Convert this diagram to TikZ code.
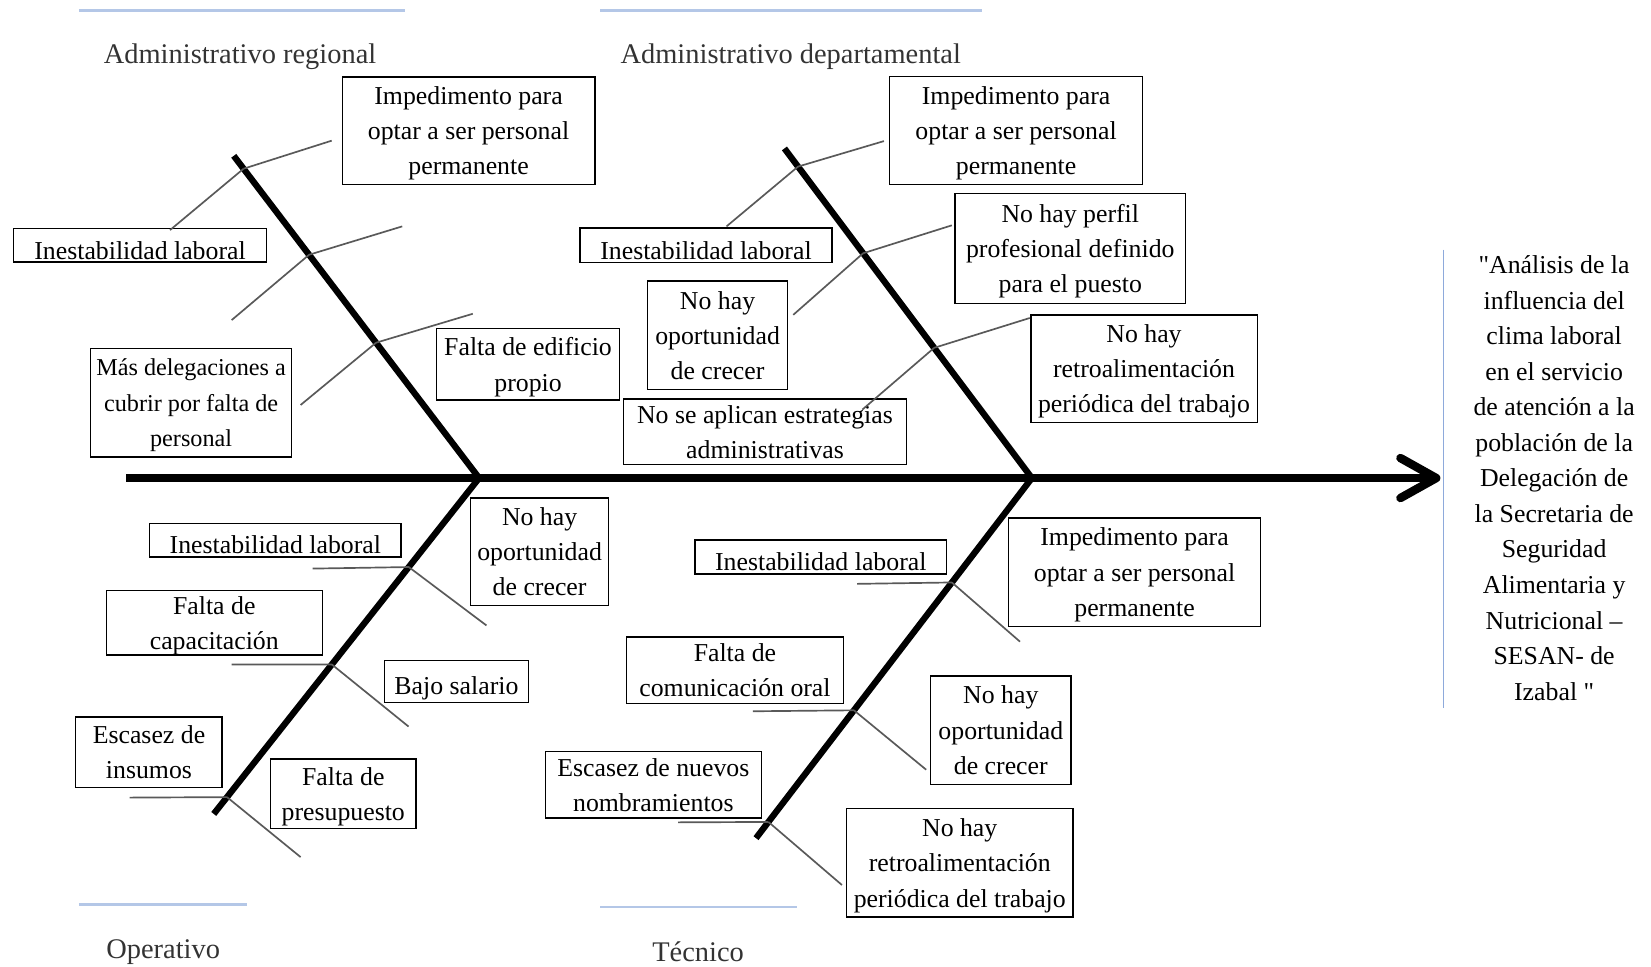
\documentclass[tikz,border=0pt]{standalone}
\usepackage{fontspec}
\setmainfont{Liberation Serif}[Ligatures=TeXOff]
\usetikzlibrary{calc}
\definecolor{guideblue}{HTML}{B4C7E7}
\definecolor{vblue}{HTML}{8EAADB}
\newcommand\causefont{\fontsize{24.5}{33.5}\selectfont}
\newcommand\smallcausefont{\fontsize{23}{33.5}\selectfont}
\newcommand\headfont{\fontsize{27}{32}\selectfont}
\newcommand\effectfont{\fontsize{24.5}{33.75}\selectfont}
\newcommand\topstrut{\rule{0pt}{26pt}}
\tikzset{
  cause/.style={draw=black, line width=1.3pt, align=center, inner sep=0pt, font=\causefont, text=black, text depth=-12pt, execute at begin node=\topstrut},
  spine/.style={line width=8pt, draw=black},
  bone/.style={line width=6pt, draw=black},
  twig/.style={line width=1.6pt, draw=black!65},
  guide/.style={line width=2pt, draw=guideblue},
  head/.style={font=\headfont, text=black!80, inner sep=0pt},
  headarrow/.style={line width=8pt, draw=black, line cap=round, line join=round},
}
\begin{document}
\begin{tikzpicture}[x=1pt, y=-1pt]
\useasboundingbox (0,0) rectangle (1568,918);

% guide lines
\coordinate (g1a) at (75,10);  \coordinate (g1b) at (385,10);
\coordinate (g2a) at (570,10); \coordinate (g2b) at (933,10);
\coordinate (g3a) at (75,859); \coordinate (g3b) at (235,859);
\coordinate (g4a) at (570,861);\coordinate (g4b) at (757,861);
\draw[guide] (g1a) -- (g1b);
\draw[guide] (g2a) -- (g2b);
\draw[guide] (g3a) -- (g3b);
\draw[guide] (g4a) -- (g4b);
\coordinate (v1) at (1371,237); \coordinate (v2) at (1371,672);
\draw[line width=1.5pt, draw=vblue] (v1) -- (v2);

% headers
\node[head] (h1) at (228,54) {Administrativo regional};
\node[head] (h2) at (751,54) {Administrativo departamental};
\node[head] (h3) at (155,904) {Operativo};
\node[head] (h4) at (663,904) {Técnico};

% spine and bones
\coordinate (S0) at (120,454);
\coordinate (J1) at (455,454);
\coordinate (J2) at (980,454);
\coordinate (S1) at (1364,454);
\coordinate (B1) at (222,148);
\coordinate (B2) at (745,141);
\coordinate (B3) at (203,773);
\coordinate (B4) at (718,796);
\draw[spine] (S0) -- (S1);
\coordinate (A1) at (1330,435);
\coordinate (A2) at (1330,473);
\draw[headarrow] (A1) -- (S1) -- (A2);
\draw[bone] (B1) -- (J1);
\draw[bone] (B2) -- (J2);
\draw[bone] (J1) -- (B3);
\draw[bone] (J2) -- (B4);

% cause boxes: top-left
\node[cause, minimum width=240, minimum height=102] (tl1) at (445,124) {Impedimento para\\optar a ser personal\\permanente};
\node[cause, minimum width=240, minimum height=32] (tl2) at (133,233) {Inestabilidad laboral};
\node[cause, minimum width=191, minimum height=103, font=\smallcausefont] (tl3) at (181.5,382.5) {Más delegaciones a\\cubrir por falta de\\personal};
\node[cause, minimum width=174, minimum height=68] (tl4) at (501.5,346) {Falta de edificio\\propio};

% top-right
\node[cause, minimum width=240, minimum height=103] (tr1) at (965,124) {Impedimento para\\optar a ser personal\\permanente};
\node[cause, minimum width=219, minimum height=104] (tr2) at (1016.5,236) {No hay perfil\\profesional definido\\para el puesto};
\node[cause, minimum width=215, minimum height=102] (tr3) at (1086.5,350) {No hay\\retroalimentación\\periódica del trabajo};
\node[cause, minimum width=239, minimum height=33] (tr4) at (670.5,233) {Inestabilidad laboral};
\node[cause, minimum width=133, minimum height=103] (tr5) at (681.5,318.5) {No hay\\oportunidad\\de crecer};
\node[cause, minimum width=269, minimum height=62] (tr6) at (726.5,410) {No se aplican estrategias\\administrativas};

% bottom-left
\node[cause, minimum width=131, minimum height=102] (bl1) at (512.5,524) {No hay\\oportunidad\\de crecer};
\node[cause, minimum width=239, minimum height=32] (bl2) at (261.5,513) {Inestabilidad laboral};
\node[cause, minimum width=205, minimum height=61] (bl3) at (203.5,591.5) {Falta de\\capacitación};
\node[cause, minimum width=137, minimum height=40] (bl4) at (433.5,647) {Bajo salario};
\node[cause, minimum width=139, minimum height=67] (bl5) at (141.5,714.5) {Escasez de\\insumos};
\node[cause, minimum width=138, minimum height=66] (bl6) at (326,754) {Falta de\\presupuesto};

% bottom-right
\node[cause, minimum width=239, minimum height=103] (br1) at (1077.5,543.5) {Impedimento para\\optar a ser personal\\permanente};
\node[cause, minimum width=239, minimum height=32] (br2) at (779.5,529) {Inestabilidad laboral};
\node[cause, minimum width=206, minimum height=63] (br3) at (698,636.5) {Falta de\\comunicación oral};
\node[cause, minimum width=133, minimum height=103] (br4) at (950.5,693.5) {No hay\\oportunidad\\de crecer};
\node[cause, minimum width=205, minimum height=63] (br5) at (620.5,745.5) {Escasez de nuevos\\nombramientos};
\node[cause, minimum width=215, minimum height=103] (br6) at (911.5,819.5) {No hay\\retroalimentación\\periódica del trabajo};

% twigs: top-left bone
\coordinate (p1a) at ($(B1)!0.04!(J1)$);
\coordinate (p1b) at ($(B1)!0.307!(J1)$);
\coordinate (p1c) at ($(B1)!0.58!(J1)$);
\coordinate (q1a) at (315,133.6);  \coordinate (r1a) at (161.5,218.5);
\coordinate (q1b) at (382,215);    \coordinate (r1b) at (220,304);
\coordinate (q1c) at (449,298);    \coordinate (r1c) at (285.5,384.6);
\draw[twig] (p1a) -- (q1a); \draw[twig] (r1a) -- (p1a);
\draw[twig] (p1b) -- (q1b); \draw[twig] (r1b) -- (p1b);
\draw[twig] (p1c) -- (q1c); \draw[twig] (r1c) -- (p1c);

% twigs: top-right bone
\coordinate (p2a) at ($(B2)!0.055!(J2)$);
\coordinate (p2b) at ($(B2)!0.318!(J2)$);
\coordinate (p2c) at ($(B2)!0.605!(J2)$);
\coordinate (q2a) at (839.5,134);  \coordinate (r2a) at (690,215);
\coordinate (q2b) at (904,214);    \coordinate (r2b) at (753.4,299);
\coordinate (q2c) at (978,302);    \coordinate (r2c) at (819,389);
\draw[twig] (p2a) -- (q2a); \draw[twig] (r2a) -- (p2a);
\draw[twig] (p2b) -- (q2b); \draw[twig] (r2b) -- (p2b);
\draw[twig] (p2c) -- (q2c); \draw[twig] (r2c) -- (p2c);

% twigs: bottom-left bone
\coordinate (p3a) at ($(J1)!0.265!(B3)$);
\coordinate (p3b) at ($(J1)!0.555!(B3)$);
\coordinate (p3c) at ($(J1)!0.95!(B3)$);
\coordinate (q3a) at (297,540);    \coordinate (r3a) at (462,594);
\coordinate (q3b) at (220,631);    \coordinate (r3b) at (388,690);
\coordinate (q3c) at (123,757.5);  \coordinate (r3c) at (285.5,814);
\draw[twig] (q3a) -- (p3a); \draw[twig] (p3a) -- (r3a);
\draw[twig] (q3b) -- (p3b); \draw[twig] (p3b) -- (r3b);
\draw[twig] (q3c) -- (p3c); \draw[twig] (p3c) -- (r3c);

% twigs: bottom-right bone
\coordinate (p4a) at ($(J2)!0.29!(B4)$);
\coordinate (p4b) at ($(J2)!0.645!(B4)$);
\coordinate (p4c) at ($(J2)!0.955!(B4)$);
\coordinate (q4a) at (814,554.5);  \coordinate (r4a) at (968.7,609.4);
\coordinate (q4b) at (715,675.5);  \coordinate (r4b) at (879.6,731);
\coordinate (q4c) at (644,781);    \coordinate (r4c) at (799.6,840.5);
\draw[twig] (q4a) -- (p4a); \draw[twig] (p4a) -- (r4a);
\draw[twig] (q4b) -- (p4b); \draw[twig] (p4b) -- (r4b);
\draw[twig] (q4c) -- (p4c); \draw[twig] (p4c) -- (r4c);

% effect
\node[align=center, font=\effectfont, text=black, inner sep=0pt] (effect) at (1476,454)
  {"Análisis de la\\influencia del\\clima laboral\\en el servicio\\de atención a la\\población de la\\Delegación de\\la Secretaria de\\Seguridad\\Alimentaria y\\Nutricional –\\SESAN- de\\Izabal "};
\end{tikzpicture}
\end{document}
